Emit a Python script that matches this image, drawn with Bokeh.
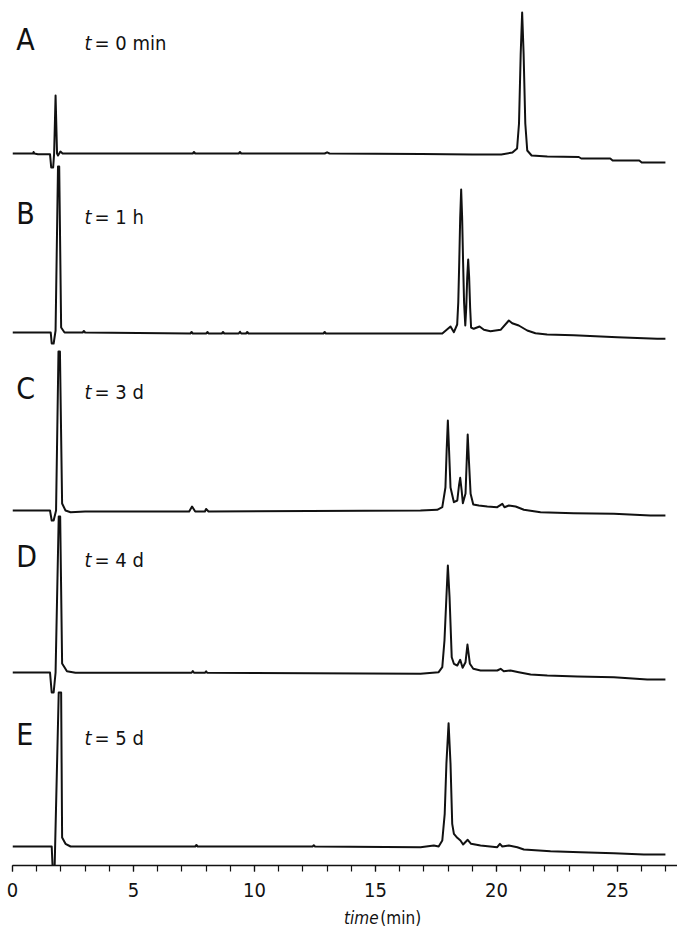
from bokeh.plotting import figure
from bokeh.layouts import column
from bokeh.models import FixedTicker, Range1d
from bokeh.core.properties import value
from bokeh.embed import file_html
from bokeh.resources import INLINE

# ---------------- data ----------------
panels = ["A", "B", "C", "D", "E"]
times = ["0 min", "1 h", "3 d", "4 d", "5 d"]
tick_values = [0, 5, 10, 15, 20, 25]

time_A = [0, 0.85, 0.87, 0.90, 1.05, 1.55, 1.60, 1.68, 1.72, 1.78, 1.84, 1.88, 1.98, 2.07,
          7.45, 7.5, 7.55, 9.35, 9.4, 9.45, 12.9, 13.0, 13.1, 16.9, 19.0, 20.2, 20.66, 20.85,
          20.93, 21.0, 21.06, 21.12, 21.19, 21.27, 21.45, 22.1, 23.4, 23.5, 24.7, 24.8, 25.9,
          26.0, 26.98]
sig_A = [0, 0, 1.5, 0, -0.7, -0.7, -14, -14, 0, 58, 0, -2, 2, 0,
         0, 1.5, 0, 0, 1.5, 0, 0, 1.2, 0, -0.5, -1, -1, 1, 5,
         30, 100, 141, 100, 30, 3, -2, -3, -3.5, -5, -5, -7, -7,
         -9, -9]

time_B = [0, 1.2, 1.58, 1.62, 1.70, 1.78, 1.88, 1.93, 2.01, 2.15, 2.9, 2.95, 3.0,
          7.35, 7.4, 7.45, 8.0, 8.06, 8.1, 8.65, 8.7, 8.75, 9.35, 9.4, 9.45, 9.65, 9.7, 9.75,
          12.85, 12.9, 12.95, 16.86, 17.5, 17.76, 18.10, 18.24, 18.375, 18.42, 18.46, 18.50,
          18.54, 18.58, 18.62, 18.66, 18.71, 18.75, 18.79, 18.83, 18.87, 18.91, 18.95, 19.06,
          19.30, 19.48, 19.75, 20.17, 20.51, 20.65, 20.92, 21.27, 21.61, 22.09, 23.19, 24.99,
          26.64, 26.98]
sig_B = [0, 0, 0, -11, -11, 2, 166, 166, 5, 0, 0, 1.5, 0,
         -1, 0.5, -1, -1, 0.5, -1, -1, 0.5, -1, -1, 0.8, -1, -1, 0.5, -1,
         -1, 0.5, -1, -1, -1, -1, 6, 0.3, 8, 30, 70, 115,
         143, 115, 70, 30, 7, 25, 55, 73, 55, 25, 5, 3.7,
         6, 2.7, 1.3, 2.7, 12, 9.3, 7, 2, -0.7, -2, -2.7, -4.7,
         -6.3, -6.3]

time_C = [0, 1.55, 1.62, 1.70, 1.80, 1.90, 1.96, 2.05, 2.19, 2.40, 3.0,
          7.3, 7.42, 7.55, 7.95, 8.0, 8.1, 16.86, 17.55, 17.76, 17.89, 17.94, 17.99, 18.04,
          18.10, 18.24, 18.38, 18.45, 18.50, 18.56, 18.61, 18.72, 18.77, 18.81, 18.86, 18.93,
          19.04, 19.27, 19.62, 20.03, 20.24, 20.33, 20.51, 20.79, 21.13, 21.82, 23.19, 24.85,
          26.36, 26.98]
sig_C = [0, 0, -10, -10, 0, 159, 159, 7, 0, -1.7, -1,
         -1, 4, -1, -1, 1.5, -1, 0, 0.7, 3.3, 23, 60, 90, 60,
         23, 8.3, 10, 25, 32.7, 20, 7.3, 17, 50, 76, 50, 16.7,
         6, 5, 4, 3.3, 6.7, 3.3, 5, 4, 0.7, -1.7, -2.7, -3.3,
         -5, -5]

time_D = [0, 1.55, 1.62, 1.70, 1.78, 1.91, 1.97, 2.05, 2.25, 2.6,
          7.4, 7.45, 7.5, 7.95, 8.0, 8.05, 16.86, 17.61, 17.76, 17.85, 17.93, 17.99, 18.06,
          18.15, 18.24, 18.38, 18.50, 18.60, 18.72, 18.80, 18.90, 19.04, 19.34, 20.03, 20.17,
          20.30, 20.58, 20.92, 21.41, 22.1, 23.34, 24.85, 26.23, 26.98]
sig_D = [0, 0, -20, -20, 0, 156, 156, 9, 1.3, -0.3,
         -0.3, 1.5, -0.3, -0.3, 1.2, -0.3, -1.3, 0.3, 5.3, 32, 75.3, 107, 75.3,
         15.3, 8.7, 7, 12.7, 4.7, 10.3, 28, 8.7, 3.7, 2, 2, 3.7,
         1.3, 2, 0.3, -2, -3, -4, -4.7, -7, -7]

time_E = [0, 1.55, 1.62, 1.66, 1.74, 1.91, 2.01, 2.05, 2.19, 2.40,
          7.55, 7.6, 7.65, 12.4, 12.45, 12.5, 16.86, 17.41, 17.61, 17.76, 17.86, 17.93, 18.02,
          18.10, 18.17, 18.24, 18.38, 18.51, 18.62, 18.81, 18.95, 19.34, 20.03, 20.14, 20.24,
          20.51, 20.86, 21.13, 22.23, 23.47, 24.85, 26.09, 26.98]
sig_E = [0, 0, 0, -22, -22, 154, 154, 9, 2.7, 0,
         0, 1.5, 0, 0, 1.2, 0, -0.7, 1, 0, 6, 32.7, 82.7, 123.3,
         82.7, 22.7, 12.7, 8.7, 6, 2, 6.7, 2.7, 1, -0.7, 2.7, 0,
         1, -0.7, -3, -4.7, -5.7, -6.7, -8, -8]

traces = [(time_A, sig_A), (time_B, sig_B), (time_C, sig_C), (time_D, sig_D), (time_E, sig_E)]

# ---------------- layout / style ----------------
FONT = "DejaVu Sans Condensed, Liberation Sans Narrow, Liberation Sans, sans-serif"
INK = "#111111"
PX_PER_MIN = 24.2
W = 677
LEFT = 12
xr = Range1d(0, (W - LEFT) / PX_PER_MIN)
offsets = [712, 533, 355, 193, 19]          # vertical stacking of the traces
letter_y = [826, 652, 477, 309, 131]         # panel letter positions
tlabel_y = [823, 649, 474, 306, 128]         # "t = ..." label positions

p = figure(width=W, height=905, x_range=xr, y_range=Range1d(0, 857),
           output_backend="svg", toolbar_location=None, y_axis_location=None,
           min_border_left=LEFT, min_border_right=0, min_border_top=8, min_border_bottom=40)
p.outline_line_color = None
p.xgrid.visible = False
p.ygrid.visible = False

for (tx, sy), off in zip(traces, offsets):
    p.line(tx, [v + off for v in sy], line_color=INK, line_width=2, line_join="round")

ax = p.xaxis[0]
ax.ticker = FixedTicker(ticks=tick_values, minor_ticks=list(range(0, 28)))
ax.axis_line_color = INK
ax.axis_line_width = 1.5
ax.major_tick_line_color = INK
ax.minor_tick_line_color = INK
ax.major_tick_line_width = 1.2
ax.minor_tick_line_width = 1.2
ax.major_tick_out = 6
ax.major_tick_in = 0
ax.minor_tick_out = 6
ax.minor_tick_in = 0
ax.major_label_text_font = FONT
ax.major_label_text_font_size = "20px"
ax.major_label_text_color = INK
ax.major_label_standoff = 11

p.text(x=[0.15] * 5, y=letter_y, text=panels, text_font=value(FONT),
       text_font_size="30px", text_baseline="alphabetic", text_align="left",
       text_color=INK)
p.text(x=[2.975] * 5, y=tlabel_y, text=["t"] * 5, text_font=value(FONT),
       text_font_style="italic", text_font_size="20px", text_baseline="alphabetic",
       text_align="left", text_color=INK)
p.text(x=[3.39] * 5, y=tlabel_y, text=["= " + t for t in times], text_font=value(FONT),
       text_font_size="20px", text_baseline="alphabetic", text_align="left",
       text_color=INK)

# axis title row: italic "time" followed by upright "(min)"
q = figure(width=W, height=23, x_range=xr, y_range=Range1d(0, 23),
           output_backend="svg", toolbar_location=None, x_axis_location=None,
           y_axis_location=None, min_border_left=LEFT, min_border_right=0,
           min_border_top=0, min_border_bottom=0)
q.outline_line_color = None
q.xgrid.visible = False
q.ygrid.visible = False
q.text(x=[13.7], y=[11], text=["time"], text_font=value(FONT), text_font_style="italic",
       text_font_size="17px", text_baseline="alphabetic", text_align="left", text_color=INK)
q.text(x=[15.2], y=[11], text=["(min)"], text_font=value(FONT),
       text_font_size="17px", text_baseline="alphabetic", text_align="left", text_color=INK)

layout = column(p, q, spacing=0)
open("out.html", "w").write(file_html(layout, INLINE))
